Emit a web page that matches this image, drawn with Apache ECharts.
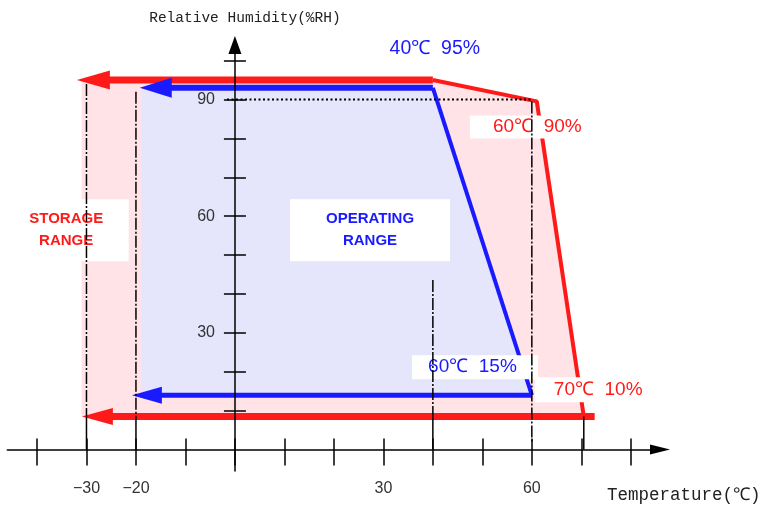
<!DOCTYPE html>
<html><head><meta charset="utf-8">
<script src="https://cdn.jsdelivr.net/npm/echarts@6/dist/echarts.min.js"></script>
<style>html,body{margin:0;padding:0;background:#fff}#c{width:764px;height:508px}</style>
</head><body><div id="c"></div>
<script>
// ---- data (temperature °C, relative humidity %RH) ----
const storageTop    = [[40, 95], [-28.6, 95]];
const storageEdge   = [[40, 95], [61, 89.5], [70.5, 8.5]];
const storageBottom = [[72.7, 8.5], [-27.8, 8.5]];
const storageArea   = [[-31, 95], [40, 95], [61, 89.5], [70.5, 8.5], [-31, 8.5]];

const operTop    = [[40, 93], [-16, 93]];
const operEdge   = [[40, 93], [60, 14]];
const operBottom = [[60, 14], [-17.8, 14]];
const operArea   = [[-19, 93], [40, 93], [60, 14], [-19, 14]];

const guideDashed = [[[-30, 94], [-30, 8.5]], [[-20, 92], [-20, 8.5]], [[40, 43.6], [40, 8.5]], [[60, 89.5], [60, 2]]];
const guideSolid  = [[[-30, 8.5], [-30, 0]], [[-20, 8.5], [-20, 0]], [[40, 8.5], [40, 0]], [[70.5, 8.5], [70.5, 0]]];
const guide90     = [[-1.6, 90], [60, 90]];

const xTickValues  = [-40, -30, -20, -10, 0, 10, 20, 30, 40, 50, 60, 70, 80];
const xLabelValues = [-30, -20, 30, 60];
const yTickValues  = [10, 20, 30, 40, 50, 60, 70, 80, 90, 100];
const yLabelValues = [30, 60, 90];

const noteTexts = ['STORAGE\nRANGE', 'OPERATING\nRANGE', '40℃  95%', '60℃  90%', '60℃  15%', '70℃  10%'];
const notePoints = [[-34.1, 56.4], [27.3, 56.4], [40.4, 103], [59.8, 82.9], [48.5, 21.2], [71.9, 15.4]];

// ---- styles ----
const RED = '#ff1a1a', BLUE = '#1a1aff', PINK = '#ffe3e7', LAV = '#e5e5fb';
const noteStyles = [
  {color: RED,  fontSize: 15, fontWeight: 'bold', lineHeight: 22, width: 125, padding: [9, 0, 9, 0], backgroundColor: '#fff'},
  {color: BLUE, fontSize: 15, fontWeight: 'bold', lineHeight: 22, width: 160, padding: [9, 0, 9, 0], backgroundColor: '#fff'},
  {color: BLUE, fontSize: 19.5, lineHeight: 22},
  {color: RED,  fontSize: 19, lineHeight: 23, width: 95, padding: [0, 7, 0, 20], backgroundColor: '#fff'},
  {color: BLUE, fontSize: 19, lineHeight: 24, width: 95, padding: [0, 18, 0, 13], backgroundColor: '#fff'},
  {color: RED,  fontSize: 19, lineHeight: 25, width: 93, padding: [0, 2, 0, 17], backgroundColor: '#fff'}
];

function polygon(points, color, z) {
  return {
    type: 'custom', z: z, silent: true, data: points, encode: {x: 0, y: 1},
    renderItem: function (params, api) {
      if (params.dataIndex !== 0) return null;
      return {type: 'polygon', shape: {points: points.map(function (p) { return api.coord(p); })}, style: {fill: color}};
    }
  };
}
function line(data, color, width, z, arrow, dash) {
  const last = data.length - 1;
  return {
    type: 'line', data: data, z: z, silent: true,
    showSymbol: !!arrow,
    symbol: function (v, p) { return arrow && p.dataIndex === last ? 'triangle' : 'none'; },
    symbolSize: arrow || 0, symbolRotate: 90,
    itemStyle: {color: color, opacity: 1},
    lineStyle: {color: color, width: width, type: dash || 'solid', cap: 'butt', opacity: 1},
    emphasis: {disabled: true}
  };
}

const series = [
  polygon(storageArea, PINK, 1),
  polygon(operArea, LAV, 2),
  line(storageTop, RED, 7, 3, [19, 33]),
  line(storageEdge, RED, 4, 3),
  line(storageBottom, RED, 7, 3, [17, 31]),
  line(operTop, BLUE, 6, 4, [20, 32]),
  line(operEdge, BLUE, 4, 4),
  line(operBottom, BLUE, 5, 4, [17, 30]),
  {
    type: 'scatter', z: 5, silent: true, symbol: 'circle', symbolSize: 1,
    itemStyle: {color: 'rgba(0,0,0,0)', opacity: 1},
    emphasis: {disabled: true},
    data: notePoints.map(function (p, i) {
      return {value: p, label: Object.assign({show: true, opacity: 1, position: 'inside', formatter: noteTexts[i], fontFamily: 'Liberation Sans', align: 'center', verticalAlign: 'middle'}, noteStyles[i])};
    })
  }
];
guideDashed.forEach(function (seg) { series.push(line(seg, '#000', 1.5, 6, null, [12, 2, 2, 2])); });
guideSolid.forEach(function (seg) { series.push(line(seg, '#000', 1.5, 6)); });
series.push(line(guide90, '#000', 2, 6, null, [2, 2.5]));

const axisLine = {onZero: true, lineStyle: {color: '#000', width: 1.5}};
const chart = echarts.init(document.getElementById('c'));
chart.setOption({
  animation: false,
  textStyle: {fontFamily: 'Liberation Sans'},
  grid: {left: 7.3, right: 104, top: 45, bottom: 37, containLabel: false, outerBoundsMode: 'none'},
  xAxis: [{
    type: 'value', min: -46, max: 85.9, position: 'bottom', z: 10,
    axisLine: Object.assign({}, axisLine, {onZeroAxisIndex: 0, symbol: ['none', 'triangle'], symbolSize: [10, 20]}),
    axisTick: {show: true, length: 16, customValues: xTickValues, lineStyle: {color: '#000', width: 1.5}},
    axisLabel: {customValues: xLabelValues, margin: 10, fontSize: 16, color: '#333',
      formatter: function (v) { return v < 0 ? '\u2212' + Math.abs(v) : String(v); }},
    splitLine: {show: false},
    name: 'Temperature(℃)', nameLocation: 'end', nameGap: -53,
    nameTextStyle: {fontFamily: 'Liberation Mono', fontSize: 17.5, color: '#222', align: 'left', verticalAlign: 'top', padding: [37, 0, 0, 0]}
  }, {
    type: 'value', min: -46, max: 85.9, position: 'bottom', z: 10,
    axisLine: {show: false, onZero: true, onZeroAxisIndex: 1},
    axisTick: {show: true, inside: true, length: 11, customValues: xTickValues, lineStyle: {color: '#000', width: 1.5}},
    axisLabel: {show: false}, splitLine: {show: false}
  }],
  yAxis: [{
    type: 'value', min: -5.5, max: 104, position: 'left', z: 10,
    axisLine: Object.assign({}, axisLine, {onZeroAxisIndex: 0, symbol: ['none', 'triangle'], symbolSize: [13, 18]}),
    axisTick: {show: true, length: 11, customValues: yTickValues, lineStyle: {color: '#000', width: 1.5}},
    axisLabel: {customValues: yLabelValues, margin: -207.7, fontSize: 16, color: '#333'},
    splitLine: {show: false},
    name: 'Relative Humidity(%RH)', nameLocation: 'end', nameGap: 19,
    nameTextStyle: {fontFamily: 'Liberation Mono', fontSize: 14.5, color: '#222', align: 'center', verticalAlign: 'bottom', padding: [0, 0, 0, 20]}
  }, {
    type: 'value', min: -5.5, max: 104, position: 'left', z: 10,
    axisLine: {show: false, onZero: true, onZeroAxisIndex: 1},
    axisTick: {show: true, inside: true, length: 11, customValues: yTickValues, lineStyle: {color: '#000', width: 1.5}},
    axisLabel: {show: false}, splitLine: {show: false}
  }],
  series: series
});
</script>
</body></html>
